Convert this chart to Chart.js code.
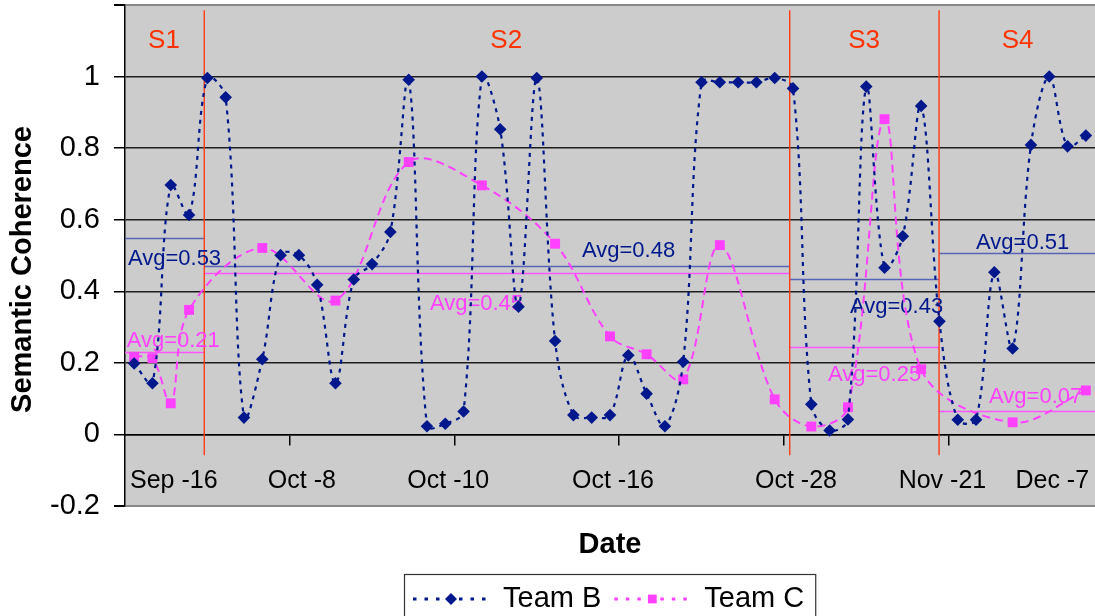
<!DOCTYPE html>
<html><head><meta charset="utf-8">
<script src="https://cdn.jsdelivr.net/npm/chart.js@4/dist/chart.umd.min.js"></script>
<style>html,body{margin:0;padding:0;background:#fff;}#wrap{width:1095px;height:616px;}</style>
</head><body><div id="wrap"><canvas id="c" width="1095" height="616"></canvas></div>
<script>
// ---- data ----
const dateLabels = ['', '', 'Sep -16', '', '', '', '', '', '', 'Oct -8', '', '', '', '', '', '', '', 'Oct -10', '', '',
  '', '', '', '', '', '', 'Oct -16', '', '', '', '', '', '', '', '', '', 'Oct -28', '', '', '',
  '', '', '', '', 'Nov -21', '', '', '', '', '', 'Dec -7', '', ''];
const teamB = [0.198, 0.143, 0.697, 0.613, 0.996, 0.942, 0.047, 0.21, 0.501, 0.501,
  0.418, 0.143, 0.433, 0.476, 0.566, 0.991, 0.023, 0.03, 0.064, 1.0,
  0.853, 0.357, 0.996, 0.261, 0.054, 0.047, 0.054, 0.221, 0.114, 0.023,
  0.203, 0.984, 0.984, 0.984, 0.984, 0.996, 0.967, 0.084, 0.011, 0.042,
  0.972, 0.466, 0.554, 0.918, 0.316, 0.041, 0.041, 0.453, 0.24, 0.809,
  1.0, 0.805, 0.835];
const teamC = [0.217, 0.213, 0.087, 0.348, null, null, null, 0.521, null, null,
  null, 0.374, null, null, null, 0.761, null, null, null, 0.696,
  null, null, null, 0.533, null, null, 0.274, null, 0.224, null,
  0.154, null, 0.529, null, null, 0.098, null, 0.022, null, 0.076,
  null, 0.881, null, 0.182, null, null, null, null, 0.034, null,
  null, null, 0.123];
const seriesNames = ['Team B', 'Team C'];
const sessionNames = ['S1', 'S2', 'S3', 'S4'];
const sessionBounds = [-0.5, 3.83, 35.82, 43.98, 52.5]; // in category index units
const avgB = [0.548, 0.471, 0.435, 0.506];
const avgC = [0.23, 0.452, 0.244, 0.065];
const avgTextB = ['Avg=0.53', 'Avg=0.48', 'Avg=0.43', 'Avg=0.51'];
const avgTextC = ['Avg=0.21', 'Avg=0.45', 'Avg=0.25', 'Avg=0.07'];
const yTitle = 'Semantic Coherence';
const xTitle = 'Date';

// ---- layout of annotations (data coordinates: [category index, value]) ----
const annotLayout = {
  sessionLabelPos: [[1.63, 1.099], [20.33, 1.099], [39.88, 1.099], [48.27, 1.099]],
  avgPosB: [[-0.34, 0.489], [24.47, 0.512], [39.11, 0.357], [46.0, 0.534]],
  avgPosC: [[-0.41, 0.26], [16.16, 0.366], [37.91, 0.165], [46.71, 0.106]],
  redTop: 1.185, redBottom: -0.058
};

const FONT = "'Liberation Sans', Arial, sans-serif";
const colB = '#00188c', colC = '#ff40ff', colRed = '#ff3c14';
Chart.defaults.font.family = FONT;

function marker(ctx, style, x, y, r, color) {
  ctx.save();
  ctx.setLineDash([]);
  ctx.fillStyle = color;
  ctx.beginPath();
  if (style === 'rectRot') {
    ctx.moveTo(x, y - r); ctx.lineTo(x + r, y); ctx.lineTo(x, y + r); ctx.lineTo(x - r, y); ctx.closePath();
  } else {
    const s = r * Math.SQRT1_2;
    ctx.rect(x - s, y - s, 2 * s, 2 * s);
  }
  ctx.fill();
  ctx.restore();
}

const annotPlugin = {
  id: 'annot',
  beforeDraw(chart) {
    const {ctx, chartArea: a} = chart;
    ctx.save();
    ctx.fillStyle = '#cccccc';
    ctx.fillRect(a.left, a.top, a.right - a.left, a.bottom - a.top);
    ctx.restore();
  },
  beforeDatasetsDraw(chart) {
    const {ctx} = chart;
    const xs = chart.scales.x, ys = chart.scales.y;
    ctx.save();
    for (let i = 0; i < sessionNames.length; i++) {
      const x1 = xs.getPixelForValue(sessionBounds[i]);
      const x2 = xs.getPixelForValue(sessionBounds[i + 1]);
      ctx.lineWidth = 1.3;
      ctx.strokeStyle = '#5a64b4';
      let y = Math.round(ys.getPixelForValue(avgB[i])) + 0.5;
      ctx.beginPath(); ctx.moveTo(x1, y); ctx.lineTo(x2, y); ctx.stroke();
      ctx.strokeStyle = '#ff55ff';
      y = Math.round(ys.getPixelForValue(avgC[i])) + 0.5;
      ctx.beginPath(); ctx.moveTo(x1, y); ctx.lineTo(x2, y); ctx.stroke();
    }
    ctx.strokeStyle = colRed;
    ctx.lineWidth = 1.4;
    for (let i = 1; i < sessionBounds.length - 1; i++) {
      const x = xs.getPixelForValue(sessionBounds[i]);
      ctx.beginPath();
      ctx.moveTo(x, ys.getPixelForValue(annotLayout.redTop));
      ctx.lineTo(x, ys.getPixelForValue(annotLayout.redBottom));
      ctx.stroke();
    }
    ctx.fillStyle = '#ff3300';
    ctx.font = '26px ' + FONT;
    ctx.textAlign = 'center';
    ctx.textBaseline = 'middle';
    sessionNames.forEach((n, i) => {
      const p = annotLayout.sessionLabelPos[i];
      ctx.fillText(n, xs.getPixelForValue(p[0]), ys.getPixelForValue(p[1]));
    });
    ctx.font = '22px ' + FONT;
    ctx.textAlign = 'left';
    avgTextB.forEach((t, i) => {
      const p = annotLayout.avgPosB[i];
      ctx.fillStyle = colB;
      ctx.fillText(t, xs.getPixelForValue(p[0]), ys.getPixelForValue(p[1]));
    });
    avgTextC.forEach((t, i) => {
      const p = annotLayout.avgPosC[i];
      ctx.fillStyle = colC;
      ctx.fillText(t, xs.getPixelForValue(p[0]), ys.getPixelForValue(p[1]));
    });
    ctx.restore();
  },
  afterDraw(chart) {
    const {ctx, chartArea: a} = chart;
    ctx.save();
    ctx.fillStyle = '#000';
    ctx.font = 'bold 29px ' + FONT;
    ctx.textAlign = 'center';
    ctx.textBaseline = 'middle';
    ctx.translate(23, (a.top + a.bottom) / 2 + 14);
    ctx.rotate(-Math.PI / 2);
    ctx.fillText(yTitle, 0, 0);
    ctx.restore();
    ctx.save();
    const cx = (a.left + a.right) / 2;
    ctx.fillStyle = '#000';
    ctx.font = 'bold 29px ' + FONT;
    ctx.textAlign = 'center';
    ctx.textBaseline = 'middle';
    ctx.fillText(xTitle, cx, a.bottom + 39);
    ctx.font = '29px ' + FONT;
    const sampleW = 76, gapT = 14, gapItem = 13, padL = 9, padR = 11;
    const items = chart.data.datasets.map(ds => ({
      label: ds.label, color: ds.borderColor, style: ds.pointStyle, w: ctx.measureText(ds.label).width
    }));
    let total = padL + padR + gapItem * (items.length - 1);
    items.forEach(it => { total += sampleW + gapT + it.w; });
    const left = Math.round(cx - total / 2), top = Math.round(a.bottom + 68);
    ctx.strokeStyle = '#333';
    ctx.lineWidth = 1.2;
    ctx.strokeRect(left + 0.5, top + 0.5, total, 90);
    const cy = top + 25;
    let x = left + padL;
    items.forEach(it => {
      ctx.strokeStyle = it.color;
      ctx.lineWidth = 3;
      ctx.setLineDash([3.5, 8]);
      ctx.beginPath(); ctx.moveTo(x, cy); ctx.lineTo(x + sampleW, cy); ctx.stroke();
      ctx.setLineDash([]);
      marker(ctx, it.style, x + sampleW / 2, cy, it.style === 'rectRot' ? 6 : 6.2, it.color);
      ctx.fillStyle = '#000';
      ctx.textAlign = 'left';
      ctx.fillText(it.label, x + sampleW + gapT, cy);
      x += sampleW + gapT + it.w + gapItem;
    });
    ctx.restore();
  }
};

const isEdge = v => Math.abs(v - 1.2) < 1e-6 || Math.abs(v + 0.2) < 1e-6;

new Chart(document.getElementById('c'), {
  type: 'line',
  data: {
    labels: dateLabels,
    datasets: [
      {
        label: seriesNames[0], data: teamB,
        borderColor: colB, backgroundColor: colB,
        borderWidth: 2.2, borderDash: [4, 5], tension: 0.35,
        pointStyle: 'rectRot', pointRadius: 6.3, pointBorderWidth: 0,
        fill: false
      },
      {
        label: seriesNames[1], data: teamC, spanGaps: true,
        borderColor: colC, backgroundColor: colC,
        borderWidth: 2, borderDash: [8, 5], tension: 0.35,
        pointStyle: 'rect', pointRadius: 7, pointBorderWidth: 0,
        fill: false
      }
    ]
  },
  options: {
    responsive: false, animation: false, devicePixelRatio: 1,
    layout: {autoPadding: false, padding: {top: 5, bottom: 110, left: 0, right: 0}},
    plugins: {legend: {display: false}, tooltip: {enabled: false}, title: {display: false}},
    scales: {
      x: {
        type: 'category', position: {y: 0}, offset: true,
        grid: {
          offset: true, drawOnChartArea: false, drawTicks: true, tickLength: 10, lineWidth: 1.5,
          color: c => (c.index > 0 && c.index % 9 === 0) ? '#000' : 'rgba(0,0,0,0)'
        },
        border: {display: true, color: '#000', width: 1.5},
        ticks: {autoSkip: false, maxRotation: 0, minRotation: 0, padding: 22, labelOffset: 3,
          color: '#000', font: {size: 25}},
        afterFit(s) { s.paddingLeft = 0; s.paddingRight = 0; }
      },
      y: {
        min: -0.2, max: 1.2,
        ticks: {stepSize: 0.2, padding: 14, font: {size: 29},
          callback: v => String(Number(Number(v).toFixed(1)) || 0),
          color: c => (c.tick && Math.abs(c.tick.value - 1.2) < 1e-6) ? 'rgba(0,0,0,0)' : '#000'},
        grid: {
          color: c => (c.tick && isEdge(c.tick.value)) ? '#888' : '#1e1e1e',
          lineWidth: c => (c.tick && isEdge(c.tick.value)) ? 2 : 1.5,
          tickLength: 11, tickColor: '#000'
        },
        border: {color: '#000', width: 1.5},
        afterFit(s) { s.width = 125; s.paddingTop = 0; s.paddingRight = 0; }
      }
    }
  },
  plugins: [annotPlugin]
});
</script></body></html>
